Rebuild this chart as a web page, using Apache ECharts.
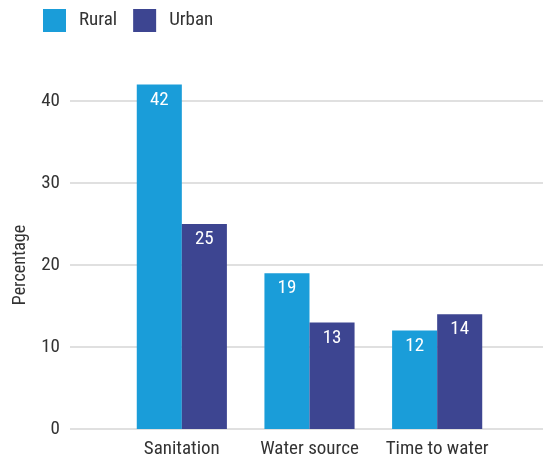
<!DOCTYPE html>
<html><head><meta charset="utf-8">
<script src="https://cdn.jsdelivr.net/npm/echarts@6/dist/echarts.min.js"></script>
<style>html,body{margin:0;padding:0;background:#fff}#c{width:543px;height:461px}</style>
</head><body><div id="c"></div>
<script>
const categories = ['Sanitation', 'Water source', 'Time to water'];
const rural = [42, 19, 12];
const urban = [25, 13, 14];
const seriesNames = ['Rural', 'Urban'];
const yTicks = [0, 10, 20, 30, 40];

const FONT = '"Roboto Condensed","Liberation Sans Narrow","Arial Narrow",Roboto,sans-serif';
const colors = ['#1A9DD9', '#3D4591'];
const chart = echarts.init(document.getElementById('c'), null, {renderer: 'canvas'});
const yMin = yTicks[0], yMax = yTicks[yTicks.length - 1], yStep = yTicks[1] - yTicks[0];
const label = {show: true, position: 'insideTop', distance: 6, color: '#fff', fontSize: 19, fontFamily: FONT};
chart.setOption({
  animation: false,
  textStyle: {fontFamily: FONT},
  color: colors,
  legend: {
    data: seriesNames, left: 43, top: 9, padding: 0, itemWidth: 23, itemHeight: 23, itemGap: 16,
    icon: 'rect',
    textStyle: {fontSize: 19, color: '#333', fontFamily: FONT, padding: [0, 0, 0, 8]}
  },
  grid: [
    {left: 70, right: 0, top: 101, bottom: 32},
    {left: 118, right: 42, top: 101, bottom: 32}
  ],
  xAxis: [
    {gridIndex: 0, type: 'category', data: categories, show: false},
    {gridIndex: 1, type: 'category', data: categories,
     axisLine: {show: false}, axisTick: {show: false},
     axisLabel: {interval: 0, fontSize: 19, color: '#333', margin: 11, fontFamily: FONT}}
  ],
  yAxis: [
    {gridIndex: 0, type: 'value', min: yMin, max: yMax, interval: yStep,
     name: 'Percentage', nameLocation: 'middle', nameGap: 41,
     nameTextStyle: {fontSize: 18, color: '#333', fontFamily: FONT},
     axisLine: {show: false}, axisTick: {show: false},
     axisLabel: {fontSize: 19, color: '#333', margin: 10, fontFamily: FONT},
     splitLine: {lineStyle: {color: '#d6d6d6', width: 1.5}}},
    {gridIndex: 1, type: 'value', min: yMin, max: yMax, interval: yStep, show: false,
     splitLine: {show: false}}
  ],
  series: [
    {name: seriesNames[0], type: 'bar', xAxisIndex: 1, yAxisIndex: 1, data: rural,
     barWidth: '35.3%', barGap: '0%', clip: false, label: label},
    {name: seriesNames[1], type: 'bar', xAxisIndex: 1, yAxisIndex: 1, data: urban,
     barWidth: '35.3%', barGap: '0%', clip: false, label: label}
  ]
});
</script></body></html>
